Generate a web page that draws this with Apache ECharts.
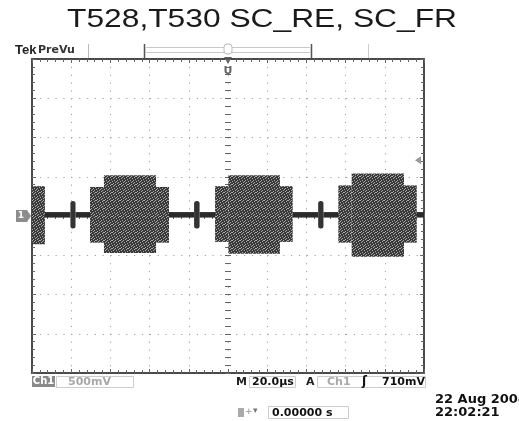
<!DOCTYPE html>
<html><head><meta charset="utf-8">
<script src="https://cdn.jsdelivr.net/npm/echarts@6/dist/echarts.min.js"></script>
<style>html,body{margin:0;padding:0;background:#fff}#c{width:519px;height:421px}</style>
</head><body><div id="c"></div>
<script>
// ---- chart texts ----
const titleText = 'T528,T530 SC_RE, SC_FR';
const channelName = 'Ch1';
const voltsPerDivLabel = '500mV';
const timebaseLabel = '20.0µs';
const triggerSourceLabel = 'Ch1';
const triggerLevelLabel = '710mV';
const horizPositionLabel = '0.00000 s';
const dateLabel = '22 Aug 2004';
const clockLabel = '22:02:21';

// ---- axes (time in µs, voltage in V; 500 mV/div, 20 µs/div) ----
const timeMinUs = 0, timeMaxUs = 200, timePerDivUs = 20;
const voltMin = -2, voltMax = 2, voltPerDiv = 0.5;
const triggerLevelV = 0.71;
const groundLevelV = 0;

// ---- trace envelope segments ----
const segStartUs = [0, 6.6, 19.6, 22.2, 29.6, 36.7, 63.3, 69.9, 82.7, 85.5, 93.4, 100.2, 126.5, 133.0, 146.0, 148.7, 156.3, 163.1, 189.8, 196.3];
const segEndUs   = [6.6, 19.6, 22.2, 29.6, 36.7, 63.3, 69.9, 82.7, 85.5, 93.4, 100.2, 126.5, 133.0, 146.0, 148.7, 156.3, 163.1, 189.8, 196.3, 200];
const segHighV   = [0.38, 0.05, 0.19, 0.05, 0.37, 0.52, 0.37, 0.05, 0.19, 0.05, 0.38, 0.52, 0.38, 0.05, 0.19, 0.05, 0.39, 0.54, 0.39, 0.05];
const segLowV    = [-0.36, -0.02, -0.16, -0.02, -0.34, -0.47, -0.34, -0.02, -0.16, -0.02, -0.33, -0.48, -0.33, -0.02, -0.16, -0.02, -0.34, -0.52, -0.34, -0.02];
const segKind    = ['burst','base','spike','base','burst','burst','burst','base','spike','base','burst','burst','burst','base','spike','base','burst','burst','burst','base'];

const segData = segStartUs.map((s, i) => [s, segEndUs[i], segHighV[i], segLowV[i], segKind[i]]);

// speckle texture for the noise bursts (fixed bitmap, style only)
function speckle() {
  const c = document.createElement('canvas'); c.width = 8; c.height = 8;
  const g = c.getContext('2d');
  g.fillStyle = '#3a3a3a'; g.fillRect(0, 0, 8, 8);
  g.fillStyle = '#a8a8a8';
  [[0,0],[3,0],[6,1],[1,2],[4,2],[7,3],[2,4],[5,4],[0,5],[3,6],[6,6],[1,7],[5,7],[7,0],[2,1],[4,5]]
    .forEach(p => g.fillRect(p[0], p[1], 1, 1));
  return c;
}
const burstFill = { image: speckle(), repeat: 'repeat' };

const chart = echarts.init(document.getElementById('c'), null, { renderer: 'canvas' });

const frameLine = { color: '#4a4a4a', width: 2 };
const tickStyle = { color: '#666', width: 1 };
const dotted = { type: [1.2, 6.65], color: '#a0a0a0', width: 1 };

function frameX(pos) {
  return { type: 'value', min: timeMinUs, max: timeMaxUs, interval: timePerDivUs, position: pos,
    axisLine: { show: true, onZero: false, lineStyle: frameLine },
    axisTick: { show: true, inside: true, length: 4, lineStyle: tickStyle },
    minorTick: { show: true, splitNumber: 5, length: 3, lineStyle: tickStyle },
    axisLabel: { show: false },
    splitLine: { show: pos === 'bottom', lineStyle: dotted } };
}
function frameY(pos) {
  return { type: 'value', min: voltMin, max: voltMax, interval: voltPerDiv, position: pos,
    axisLine: { show: true, onZero: false, lineStyle: frameLine },
    axisTick: { show: true, inside: true, length: 4, lineStyle: tickStyle },
    minorTick: { show: true, splitNumber: 5, length: 3, lineStyle: tickStyle },
    axisLabel: { show: false },
    splitLine: { show: pos === 'left', lineStyle: dotted } };
}
function centerX(inside) {
  return { type: 'value', min: timeMinUs, max: timeMaxUs, interval: timePerDivUs, position: 'bottom',
    axisLine: { show: false, onZero: true, onZeroAxisIndex: 0 },
    axisTick: { show: true, inside: inside, length: 3, lineStyle: tickStyle },
    minorTick: { show: true, splitNumber: 5, length: 3, lineStyle: tickStyle },
    axisLabel: { show: false }, splitLine: { show: false } };
}
function centerY(inside) {
  return { type: 'value', min: voltMin, max: voltMax, interval: voltPerDiv, position: 'left',
    axisLine: { show: false, onZero: true, onZeroAxisIndex: 4 },
    axisTick: { show: true, inside: inside, length: 3, lineStyle: tickStyle },
    minorTick: { show: true, splitNumber: 5, length: 3, lineStyle: tickStyle },
    axisLabel: { show: false }, splitLine: { show: false } };
}

const option = {
  animation: false,
  backgroundColor: '#ffffff',
  grid: { left: 32, top: 59, width: 392, height: 314, containLabel: false },
  xAxis: [frameX('bottom'), frameX('top'), centerX(true), centerX(false),
    { type: 'value', min: -(timeMaxUs - timeMinUs) / 2, max: (timeMaxUs - timeMinUs) / 2, show: false, axisLine: { onZero: false } }],
  yAxis: [frameY('left'), frameY('right'), centerY(true), centerY(false)],
  series: [{
    type: 'custom', name: channelName, xAxisIndex: 0, yAxisIndex: 0, clip: true,
    encode: { x: [0, 1], y: [2, 3] },
    data: segData,
    renderItem: function (params, api) {
      const p1 = api.coord([api.value(0), api.value(2)]);
      const p2 = api.coord([api.value(1), api.value(3)]);
      const kind = segKind[params.dataIndex];
      return {
        type: 'rect',
        shape: { x: p1[0], y: p1[1], width: p2[0] - p1[0], height: p2[1] - p1[1], r: kind === 'spike' ? 2.5 : 0 },
        style: { fill: kind === 'burst' ? burstFill : (kind === 'spike' ? '#333' : '#2a2a2a') }
      };
    },
    z: 5
  }]
};
chart.setOption(option);

const F = '"DejaVu Sans", sans-serif';
function txt(x, y, s, font, color, align) {
  return { type: 'text', x: x, y: y, silent: true,
    style: { text: s, font: font, fill: color, textAlign: align || 'left', textVerticalAlign: 'middle' } };
}
function line(x1, y1, x2, y2, color, w) {
  return { type: 'line', silent: true, shape: { x1: x1, y1: y1, x2: x2, y2: y2 }, style: { stroke: color, lineWidth: w || 1 } };
}
function box(x, y, w, h, stroke, fill) {
  return { type: 'rect', silent: true, shape: { x: x, y: y, width: w, height: h }, style: { stroke: stroke || 'none', fill: fill || 'none', lineWidth: 1 } };
}

const yGround = chart.convertToPixel({ yAxisIndex: 0 }, groundLevelV);
const yTrig = chart.convertToPixel({ yAxisIndex: 0 }, triggerLevelV);
const xMid = chart.convertToPixel({ xAxisIndex: 0 }, (timeMinUs + timeMaxUs) / 2);

const title = txt(262, 20, titleText, '25px "Liberation Sans", Arial, sans-serif', '#1a1a1a', 'center');
title.scaleX = 1.27;

chart.setOption({
  graphic: [
    title,
    txt(15, 50, 'Tek', 'bold 13px "Liberation Sans", sans-serif', '#222'),
    txt(38, 50, 'PreVu', 'bold 11px ' + F, '#333'),
    line(88.5, 44, 88.5, 58, '#bbb'),
    line(144.5, 44, 144.5, 59, '#555', 1.5),
    line(311.5, 44, 311.5, 59, '#555', 1.5),
    box(145.5, 47.5, 165, 5, '#c8c8c8'),
    line(368.5, 44, 368.5, 58, '#ccc'),
    { type: 'rect', silent: true, shape: { x: xMid - 4, y: 44, width: 8, height: 10, r: 3 }, style: { stroke: '#b8b8b8', fill: '#fff', lineWidth: 1 } },
    { type: 'polygon', silent: true, shape: { points: [[xMid - 4, 57], [xMid + 4, 57], [xMid, 64]] }, style: { fill: '#666' } },
    txt(xMid, 71, 'U', 'bold 11px ' + F, '#666', 'center'),
    // channel ground marker
    { type: 'polygon', silent: true, shape: { points: [[16, yGround - 6], [27, yGround - 6], [31, yGround], [27, yGround + 6], [16, yGround + 6]] }, style: { fill: '#8c8c8c' } },
    txt(21, yGround, '1', 'bold 9px ' + F, '#fff', 'center'),
    // trigger level marker
    { type: 'polygon', silent: true, shape: { points: [[415, yTrig], [421, yTrig - 4], [421, yTrig + 4]] }, style: { fill: '#999' } },
    // bottom readouts
    box(32, 376, 23, 11, null, '#8a8a8a'),
    txt(43.5, 381.5, channelName, 'bold 10px ' + F, '#fff', 'center'),
    box(56.5, 376.5, 77, 11, '#ccc'),
    txt(68, 382, voltsPerDivLabel, 'bold 11px ' + F, '#a8a8a8'),
    txt(236, 382, 'M', 'bold 11px ' + F, '#222'),
    box(249.5, 376.5, 46, 11, '#ccc'),
    txt(252, 382, timebaseLabel, 'bold 11px ' + F, '#111'),
    txt(306, 382, 'A', 'bold 11px ' + F, '#222'),
    box(317.5, 376.5, 108, 11, '#ccc'),
    txt(327, 382, triggerSourceLabel, 'bold 11px ' + F, '#aaa'),
    txt(362, 382, 'ʃ', 'bold 12px ' + F, '#111'),
    txt(382, 382, triggerLevelLabel, 'bold 11px ' + F, '#111'),
    box(238, 408, 6, 9, null, '#aaa'),
    txt(245, 412, '+', 'bold 9px ' + F, '#aaa'),
    txt(253, 411, '▾', '9px ' + F, '#777'),
    box(268.5, 406.5, 80, 12, '#ccc'),
    txt(272, 413, horizPositionLabel, 'bold 11px ' + F, '#111'),
    txt(435, 400, dateLabel, 'bold 13px ' + F, '#111'),
    txt(435, 413, clockLabel, 'bold 13px ' + F, '#111')
  ]
});
</script>
</body></html>
